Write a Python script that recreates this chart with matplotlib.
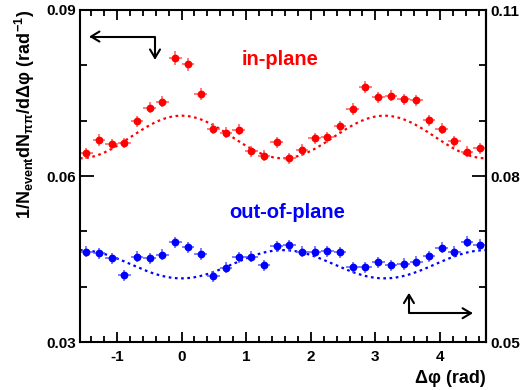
import numpy as np
import matplotlib
matplotlib.use("Agg")
import matplotlib.pyplot as plt
from matplotlib.ticker import MultipleLocator, FormatStrFormatter
from matplotlib.patches import FancyArrowPatch
from matplotlib.path import Path

plt.rcParams['font.family'] = ['Liberation Sans', 'DejaVu Sans']
plt.rcParams['font.weight'] = 'bold'
plt.rcParams['mathtext.fontset'] = 'custom'
plt.rcParams['mathtext.rm'] = 'Liberation Sans:bold'
plt.rcParams['mathtext.it'] = 'Liberation Sans:bold'
plt.rcParams['mathtext.bf'] = 'Liberation Sans:bold'
plt.rcParams['mathtext.sf'] = 'Liberation Sans:bold'

# ---- data ----
n_bins = 32
in_plane = [0.0641, 0.0665, 0.0658, 0.0659, 0.0699, 0.0723, 0.0734, 0.0813,
            0.0802, 0.0748, 0.0685, 0.0678, 0.0684, 0.0645, 0.0637, 0.0661,
            0.0632, 0.0647, 0.0668, 0.0670, 0.0690, 0.0721, 0.0761, 0.0742,
            0.0745, 0.0739, 0.0737, 0.0701, 0.0685, 0.0663, 0.0644, 0.0650]
in_plane_err = [0.0010, 0.0010, 0.0009, 0.0009, 0.0010, 0.0010, 0.0010, 0.0012,
                0.0012, 0.0011, 0.0010, 0.0010, 0.0010, 0.0010, 0.0010, 0.0010,
                0.0010, 0.0010, 0.0010, 0.0010, 0.0010, 0.0011, 0.0011, 0.0010,
                0.0010, 0.0010, 0.0010, 0.0010, 0.0010, 0.0010, 0.0010, 0.0010]
out_plane = [0.0463, 0.0460, 0.0451, 0.0421, 0.0454, 0.0451, 0.0458, 0.0480,
             0.0471, 0.0459, 0.0419, 0.0434, 0.0453, 0.0454, 0.0439, 0.0473,
             0.0475, 0.0463, 0.0463, 0.0464, 0.0462, 0.0435, 0.0435, 0.0444,
             0.0439, 0.0441, 0.0445, 0.0455, 0.0470, 0.0463, 0.0481, 0.0476]
out_plane_err = [0.0010] * 32
# modulated background (mean, cos(2 dphi) amplitude)
bkg_in = (0.06705, 0.00385)
bkg_out = (0.04405, -0.00255)

xticks = [-1, 0, 1, 2, 3, 4]
yticks_left = [0.03, 0.06, 0.09]
yticks_right = [0.05, 0.08, 0.11]

# ---- figure ----
W, H = 526, 390
fig = plt.figure(figsize=(W/100, H/100), dpi=100)
ax = fig.add_axes([80/W, 1-342/H, (486-80)/W, (342-10)/H])

width = 2*np.pi/n_bins
centers = -np.pi/2 + (np.arange(n_bins)+0.5)*width
xs = np.linspace(-np.pi/2, 3*np.pi/2, 400)

ax.plot(xs, bkg_in[0] + bkg_in[1]*np.cos(2*xs), color='red', lw=1.6,
        linestyle=(0, (1.2, 1.6)))
ax.plot(xs, bkg_out[0] + bkg_out[1]*np.cos(2*xs), color='blue', lw=1.6,
        linestyle=(0, (1.2, 1.6)))

ax.errorbar(centers, in_plane, yerr=in_plane_err, xerr=width/2, fmt='o',
            color='red', ecolor=(1, 0.35, 0.35), elinewidth=1.1, ms=4.6, capsize=0)
ax.errorbar(centers, out_plane, yerr=out_plane_err, xerr=width/2, fmt='o',
            color='blue', ecolor=(0.35, 0.35, 1), elinewidth=1.1, ms=4.6, capsize=0)

ax.set_xlim(-np.pi/2, 3*np.pi/2)
ax.set_ylim(0.03, 0.09)
ax.set_xticks(xticks)
ax.xaxis.set_major_formatter(FormatStrFormatter('%d'))
ax.xaxis.set_minor_locator(MultipleLocator(0.2))
ax.set_yticks(yticks_left)
ax.yaxis.set_major_formatter(FormatStrFormatter('%.2f'))
ax.yaxis.set_minor_locator(MultipleLocator(0.01))
ax.tick_params(axis='both', which='both', direction='in', width=1.3,
               labelsize=11)
ax.tick_params(axis='x', which='both', top=True)
ax.tick_params(axis='x', which='major', length=7, pad=6)
ax.tick_params(axis='x', which='minor', length=4)
ax.tick_params(axis='y', which='major', length=10, pad=3)
ax.tick_params(axis='y', which='minor', length=5)
for s in ax.spines.values():
    s.set_linewidth(1.5)

sec = ax.secondary_yaxis('right', functions=(lambda y: y + 0.02, lambda y: y - 0.02))
sec.set_yticks(yticks_right)
sec.yaxis.set_major_formatter(FormatStrFormatter('%.2f'))
sec.yaxis.set_minor_locator(MultipleLocator(0.01))
sec.tick_params(axis='y', which='both', direction='in', width=1.3, labelsize=11)
sec.tick_params(axis='y', which='major', length=10, pad=3)
sec.tick_params(axis='y', which='minor', length=5)
sec.spines['right'].set_linewidth(1.5)

ax.set_xlabel('Δφ (rad)', fontsize=13, fontweight='bold', loc='right', labelpad=4)
fig.text(0.024, 1-10/H, r'$1/N_{event}dN_{\pi\pi}/d\Delta\varphi\ (rad^{-1})$',
         rotation=90, ha='left', va='top', fontsize=13)

fig.text(280.5/W, 1-65/H, 'in-plane', color='red', fontsize=14.5, ha='center',
         va='baseline', fontweight='bold')
fig.text(287/W, 1-218/H, 'out-of-plane', color='blue', fontsize=14.5, ha='center',
         va='baseline', fontweight='bold')

# arrows indicating axis
p1 = Path([(-0.41, 0.0810), (-0.41, 0.0852), (-1.43, 0.0852)])
ax.add_patch(FancyArrowPatch(path=p1, arrowstyle='<->,head_length=0.5,head_width=0.3',
                             mutation_scale=12, lw=1.5, color='black'))
p2 = Path([(3.52, 0.0389), (3.52, 0.0352), (4.51, 0.0352)])
ax.add_patch(FancyArrowPatch(path=p2, arrowstyle='<->,head_length=0.5,head_width=0.3',
                             mutation_scale=12, lw=1.5, color='black'))

fig.savefig('out.png', dpi=100)
